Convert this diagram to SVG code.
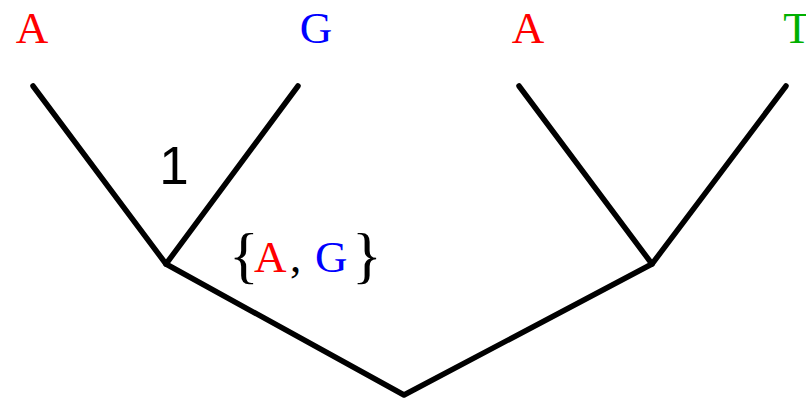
<svg xmlns="http://www.w3.org/2000/svg" width="806" height="398" viewBox="0 0 806 398">
<style>
.e{stroke:#000;stroke-width:5.5;fill:none;stroke-linecap:round;stroke-linejoin:round}
.m{font-family:"Liberation Serif","Times New Roman",serif;font-size:45px;text-anchor:middle}
.r{fill:#ff0000}.b{fill:#0000ff}.g{fill:#00b000}
</style>
<rect width="806" height="398" fill="#fff"/>
<g id="connectors">
<polyline class="e" points="33,86 166,264 298,86"/>
<polyline class="e" points="519,86 652,264 786,86"/>
<polyline class="e" points="166,264 404,395 652,264"/>
</g>
<g id="leaf1"><text class="m r" x="32" y="43">A</text></g>
<g id="leaf2"><text class="m b" x="316" y="43">G</text></g>
<g id="leaf3"><text class="m r" x="528" y="43">A</text></g>
<g id="leaf4"><text class="m g" x="797" y="43">T</text></g>
<g id="label1"><text x="174" y="184" font-family="Liberation Sans, Arial, sans-serif" font-size="53" text-anchor="middle">1</text></g>
<g id="set"><text y="272" font-family="Liberation Serif, serif" font-size="45"><tspan x="229" font-size="62" y="276">{</tspan><tspan class="r" x="254" y="272">A</tspan><tspan x="290">,</tspan><tspan class="b" x="315">G</tspan><tspan font-size="62" x="352" y="276">}</tspan></text></g>
</svg>
